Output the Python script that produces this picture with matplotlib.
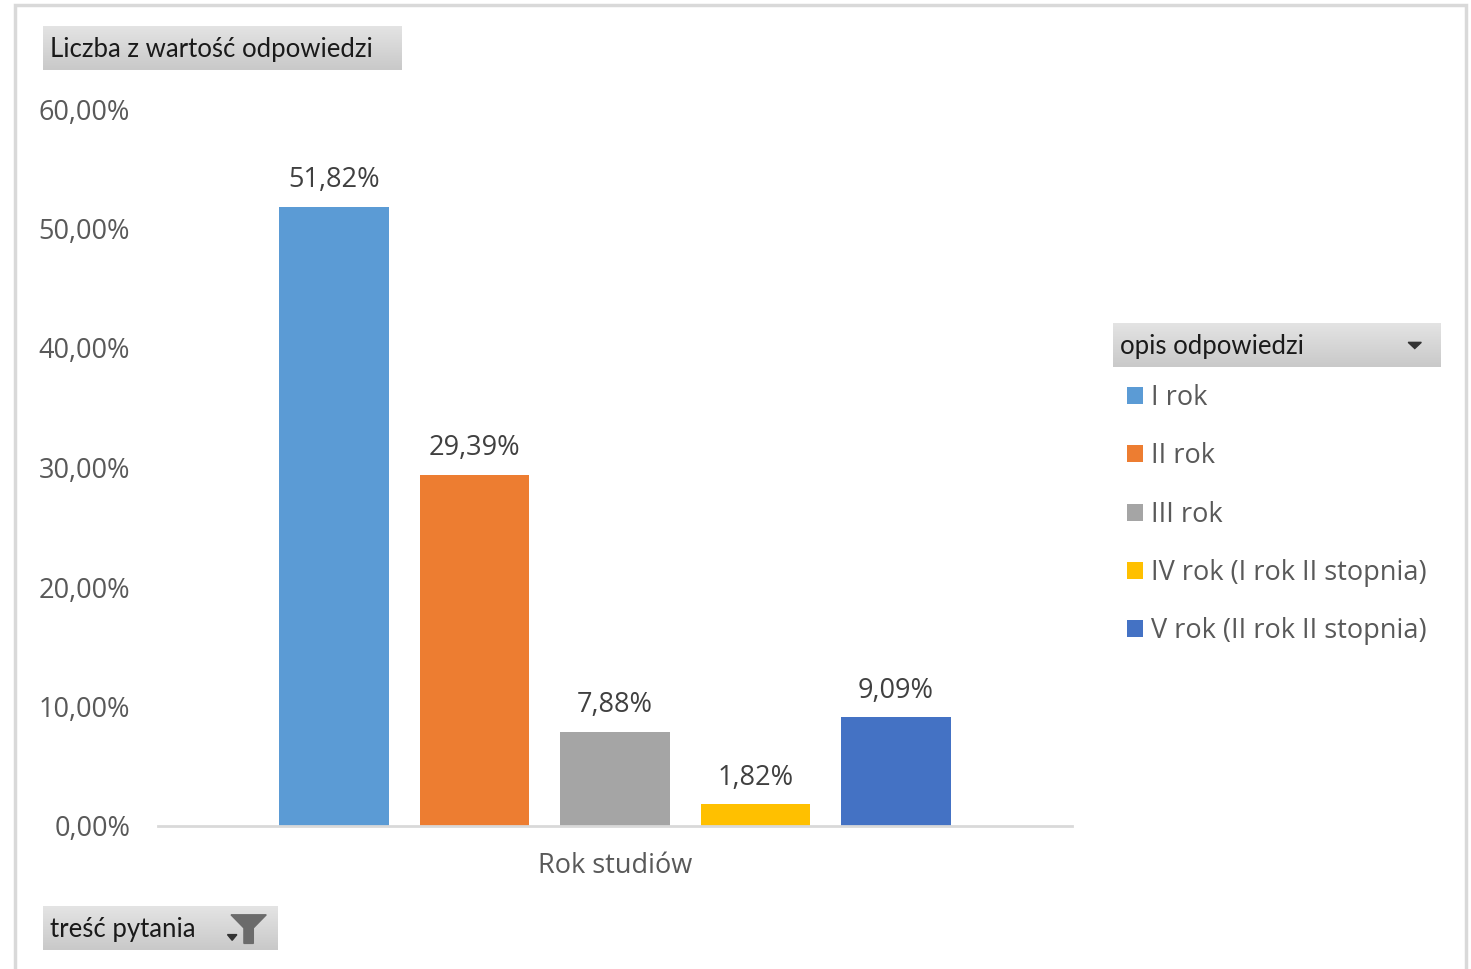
import numpy as np
import matplotlib.pyplot as plt
from matplotlib.patches import Rectangle, Polygon

# data
series = ['I rok', 'II rok', 'III rok', 'IV rok (I rok II stopnia)', 'V rok (II rok II stopnia)']
values = [51.82, 29.39, 7.88, 1.82, 9.09]
colors = ['#5B9BD5', '#ED7D31', '#A5A5A5', '#FFC000', '#4472C4']
category = 'Rok studiów'
yticks = [0, 10, 20, 30, 40, 50, 60]

W, H = 1471, 969
plt.rcParams['font.family'] = ['Open Sans', 'DejaVu Sans']
txt_gray = '#595959'
fs = 19.5
box_font = ['Lato', 'DejaVu Sans']
box_fs = 18.5

fig = plt.figure(figsize=(W / 100, H / 100), dpi=100)
fig.patch.set_facecolor('white')


def px(x0, y0, x1, y1):
    # pixel box (top-left origin) -> figure fraction rect
    return [x0 / W, 1 - y1 / H, (x1 - x0) / W, (y1 - y0) / H]


def grad_box(x0, y0, x1, y1):
    a = fig.add_axes(px(x0, y0, x1, y1))
    g = np.linspace(0, 1, 50).reshape(-1, 1)
    a.imshow(g, aspect='auto', cmap=plt.matplotlib.colors.LinearSegmentedColormap.from_list(
        'g', ['#e4e4e4', '#c9c9c9']), extent=[0, 1, 0, 1], origin='upper')
    a.set_xlim(0, 1)
    a.set_ylim(0, 1)
    a.axis('off')
    return a


# outer border
fig.patches.append(Rectangle((15 / W, -0.01), (1466 - 15) / W, 1 - 5 / H + 0.01,
                             transform=fig.transFigure, fill=False,
                             edgecolor='#d9d9d9', linewidth=2.5))

ax = fig.add_axes(px(158, 109, 1072, 826))
n = len(values)
step = 0.1537
width = 0.1203
xs = (np.arange(n) - (n - 1) / 2) * step
bars = []
for i in range(n):
    b = ax.bar(xs[i], values[i], width, color=colors[i], label=series[i])
    bars.append(b)
    ax.annotate(f'{values[i]:.2f}%'.replace('.', ','), (xs[i], values[i]),
                xytext=(0, 9), textcoords='offset points', ha='center', va='bottom',
                fontsize=fs, color='#404040')

ax.set_xlim(-0.5, 0.5)
ax.set_ylim(0, 60)
ax.set_yticks(yticks)
ax.set_yticklabels([f'{v:.2f}%'.replace('.', ',') for v in yticks], fontsize=fs, color=txt_gray)
ax.tick_params(axis='y', length=0, pad=20)
ax.set_xticks([0])
ax.set_xticklabels([category], fontsize=fs, color=txt_gray)
ax.tick_params(axis='x', length=0, pad=19)
for s in ['top', 'right', 'left']:
    ax.spines[s].set_visible(False)
ax.spines['bottom'].set_color('#d9d9d9')
ax.spines['bottom'].set_linewidth(2)

# field buttons
a1 = grad_box(43, 26, 402, 70)
a1.text(0.02, 0.46, 'Liczba z wartość odpowiedzi', fontsize=box_fs, family=box_font,
        color='#1a1a1a', va='center', ha='left')

a2 = grad_box(1113, 323, 1441, 367)
a2.text(0.02, 0.46, 'opis odpowiedzi', fontsize=box_fs, family=box_font,
        color='#1a1a1a', va='center', ha='left')
a2.add_patch(Polygon([[0.9, 0.56], [0.94, 0.56], [0.92, 0.42]], closed=True, color='#333333'))

a3 = grad_box(43, 906, 278, 950)
a3.text(0.03, 0.46, 'treść pytania', fontsize=box_fs, family=box_font,
        color='#1a1a1a', va='center', ha='left')
a3.add_patch(Polygon([[0.8, 0.8], [0.95, 0.8], [0.895, 0.5], [0.895, 0.15],
                      [0.855, 0.15], [0.855, 0.5]], closed=True, color='#6b6b6b'))
a3.add_patch(Polygon([[0.785, 0.35], [0.825, 0.35], [0.805, 0.22]], closed=True, color='#333333'))

leg = ax.legend(handles=bars, labels=series, loc='upper left',
                bbox_to_anchor=(1127 / W, 1 - 384 / H), bbox_transform=fig.transFigure,
                frameon=False, fontsize=fs, handlelength=0.6, handleheight=0.6,
                handletextpad=0.3, labelspacing=1.12, borderpad=0, borderaxespad=0)
for t in leg.get_texts():
    t.set_color(txt_gray)

fig.savefig('out.png', dpi=100)
